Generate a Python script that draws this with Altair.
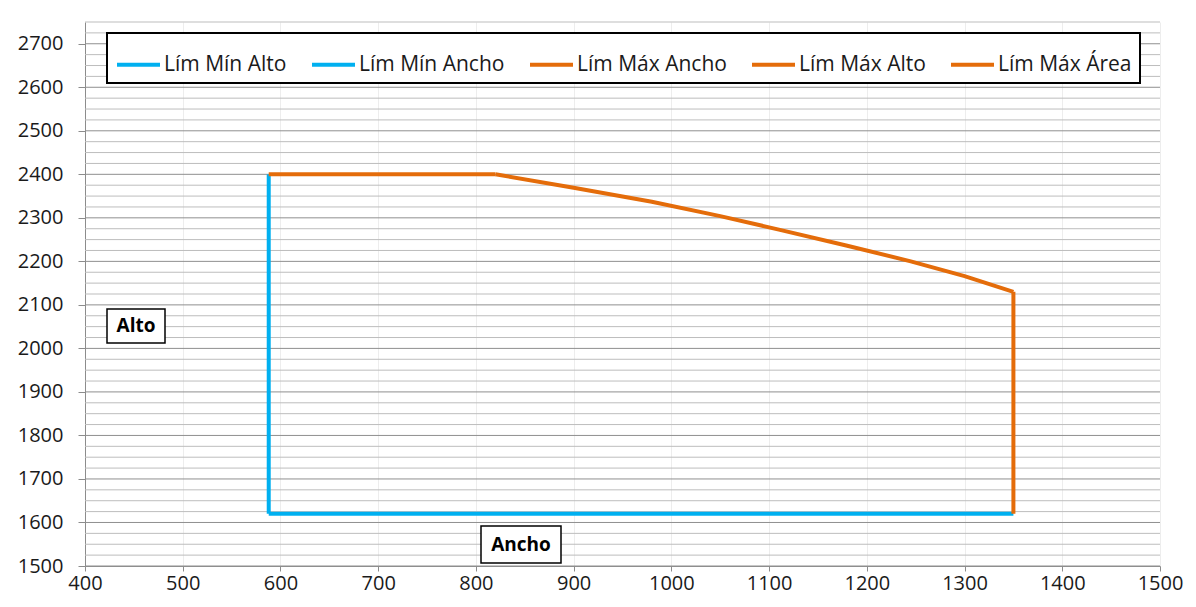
import altair as alt
import pandas as pd

# ---- data ----
series_names = ["Lím Mín Alto", "Lím Mín Ancho", "Lím Máx Ancho", "Lím Máx Alto", "Lím Máx Área"]
series_colors = ["#00B0F0", "#00B0F0", "#E46C0A", "#E46C0A", "#E46C0A"]

min_alto_x = [588, 1350]
min_alto_y = [1620, 1620]
min_ancho_x = [588, 588]
min_ancho_y = [1620, 2400]
max_ancho_x = [1350, 1350]
max_ancho_y = [1620, 2130]
max_alto_x = [588, 820]
max_alto_y = [2400, 2400]
max_area_x = [820, 900, 980, 1050, 1110, 1180, 1245, 1300, 1350]
max_area_y = [2400, 2369, 2337, 2304, 2273, 2236, 2200, 2166, 2130]

x_ticks = [400, 500, 600, 700, 800, 900, 1000, 1100, 1200, 1300, 1400, 1500]
y_ticks = [1500, 1600, 1700, 1800, 1900, 2000, 2100, 2200, 2300, 2400, 2500, 2600, 2700]
grid_y = list(range(1500, 2751, 25))

x_title = "Ancho"
y_title = "Alto"

rows = []
draw_rank = {"Lím Mín Alto": 0, "Lím Mín Ancho": 1, "Lím Máx Ancho": 2, "Lím Máx Alto": 3, "Lím Máx Área": 4}
for name, xs, ys in [
    ("Lím Mín Alto", min_alto_x, min_alto_y),
    ("Lím Mín Ancho", min_ancho_x, min_ancho_y),
    ("Lím Máx Ancho", max_ancho_x, max_ancho_y),
    ("Lím Máx Alto", max_alto_x, max_alto_y),
    ("Lím Máx Área", max_area_x, max_area_y),
]:
    for i, (xv, yv) in enumerate(zip(xs, ys)):
        rows.append({"serie": name, "ancho": xv, "alto": yv, "idx": i, "rank": draw_rank[name]})
df = pd.DataFrame(rows)

grid_df = pd.DataFrame({"g": grid_y, "major": [v % 100 == 0 for v in grid_y]})

W, H = 1075, 544
FONT = "Open Sans"

xscale = alt.Scale(domain=[400, 1500], nice=False, zero=False)
yscale = alt.Scale(domain=[1500, 2750], nice=False, zero=False)

x_axis = alt.Axis(values=x_ticks, title=None, grid=True, gridColor="#ededed", format="d",
                  domainColor="#8c8c8c", tickColor="#8c8c8c", tickSize=5,
                  labelPadding=2, labelFontSize=20, labelColor="#1a1a1a",
                  labelFont=FONT, labelFlush=False)
y_axis = alt.Axis(values=y_ticks, title=None, grid=False, format="d",
                  domainColor="#8c8c8c", tickColor="#8c8c8c", tickSize=7,
                  labelPadding=15, labelFontSize=20, labelColor="#1a1a1a",
                  labelFont=FONT)

grid = alt.Chart(grid_df).mark_rule(strokeWidth=1).encode(
    y=alt.Y("g:Q", scale=yscale, axis=y_axis),
    x=alt.value(0),
    x2=alt.value(W),
    color=alt.condition("datum.major", alt.value("#8f8f8f"), alt.value("#bdbdbd")),
)

lines = alt.Chart(df).mark_line(strokeWidth=4, strokeCap="butt", strokeJoin="miter").encode(
    x=alt.X("ancho:Q", scale=xscale, axis=x_axis),
    y=alt.Y("alto:Q", scale=yscale, axis=y_axis),
    color=alt.Color("serie:N",
                    scale=alt.Scale(domain=series_names, range=series_colors),
                    legend=alt.Legend(title=None, orient="none", legendX=22, legendY=11,
                                      direction="horizontal", columns=5,
                                      symbolType="stroke", symbolSize=1849,
                                      symbolStrokeWidth=4, labelFontSize=21,
                                      labelFont=FONT, labelColor="#1a1a1a",
                                      labelOffset=2, columnPadding=17, padding=8,
                                      fillColor="white", strokeColor="black")),
    detail="serie:N",
    order="idx:Q",
)

# draw blue series first, orange on top
lines_blue = lines.transform_filter("datum.rank < 2")
lines_orange = lines.transform_filter("datum.rank >= 2")

ybox = alt.Chart(pd.DataFrame({"t": [y_title]}))
ybox_rect = ybox.mark_rect(fill="white", stroke="black", strokeWidth=1.5).encode(
    x=alt.value(22), x2=alt.value(80), y=alt.value(287), y2=alt.value(321))
ybox_text = ybox.mark_text(font=FONT, fontSize=19, fontWeight="bold", color="black",
                           align="center", baseline="middle").encode(
    x=alt.value(51), y=alt.value(304), text="t:N")

xbox = alt.Chart(pd.DataFrame({"t": [x_title]}))
xbox_rect = xbox.mark_rect(fill="white", stroke="black", strokeWidth=1.5).encode(
    x=alt.value(396), x2=alt.value(476), y=alt.value(504), y2=alt.value(541))
xbox_text = xbox.mark_text(font=FONT, fontSize=19, fontWeight="bold", color="black",
                           align="center", baseline="middle").encode(
    x=alt.value(436), y=alt.value(523), text="t:N")

chart = alt.layer(grid, lines_blue, lines_orange, ybox_rect, ybox_text, xbox_rect, xbox_text).properties(
    width=W, height=H,
    autosize=alt.AutoSizeParams(type="none"),
    padding={"left": 77, "top": 14, "right": 28, "bottom": 33},
    background="white",
).configure_view(stroke=None).configure_legend(strokeWidth=2)

chart.save("out.html", embed_options={"renderer": "svg", "actions": False})
